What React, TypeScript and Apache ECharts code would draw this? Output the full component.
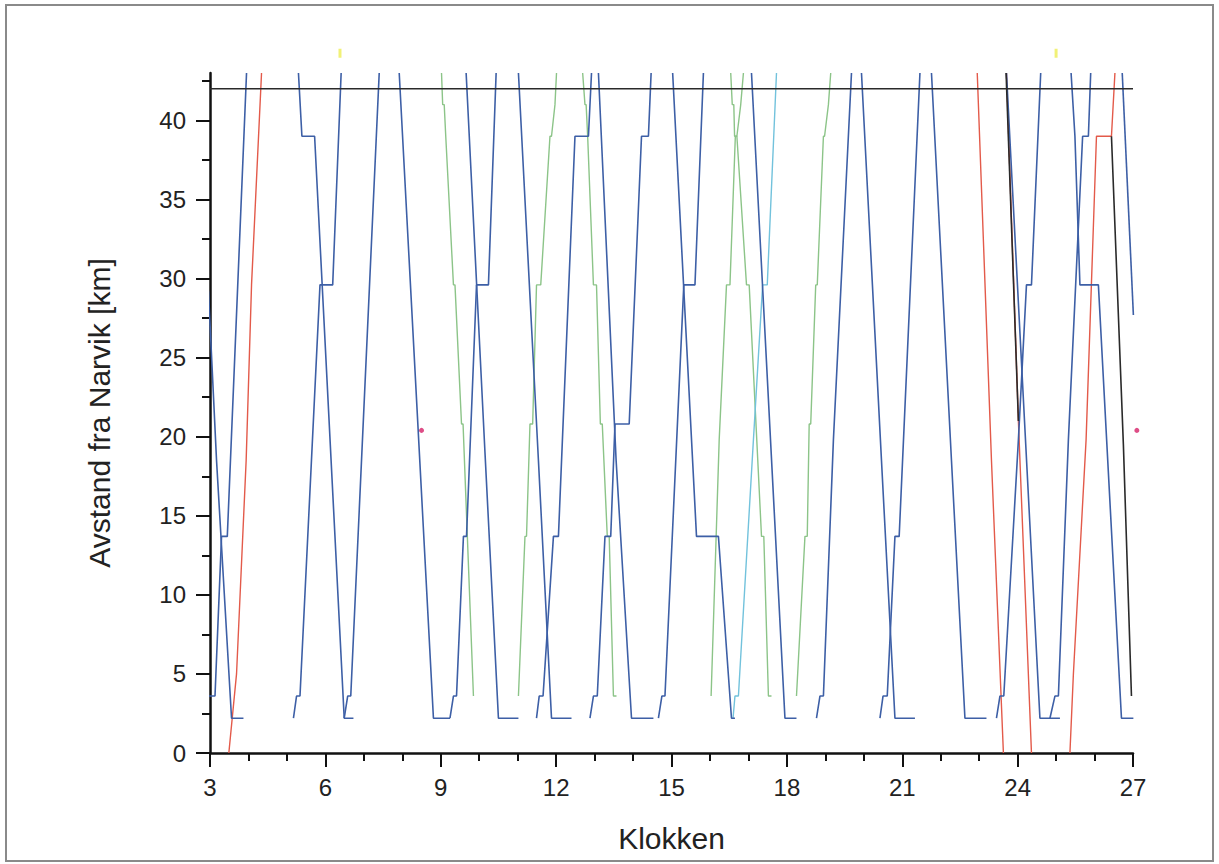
import React, { useEffect, useRef } from "react";
import * as echarts from "echarts";

// Time axis (hours) and distance axis (km)
const xTicks = { min: 3, max: 27, step: 3 };
const yTicks = { min: 0, max: 43, step: 5 };
const yTickValues = [0, 5, 10, 15, 20, 25, 30, 35, 40];

// Reference line (border at 42 km)
const borderLine = [[3, 42], [27, 42]];

// Ore trains (blue): [hour, km]
const A1 = [[2.95, 3.6], [3.13, 3.6], [3.3, 13.7], [3.45, 13.7], [3.95, 43]];
const D1 = [[2.96, 29.2], [3.17, 18.5], [3.56, 2.2], [3.87, 2.2]];
const A2 = [[5.17, 2.2], [5.25, 3.6], [5.34, 3.6], [5.86, 29.6], [6.19, 29.6], [6.41, 43]];
const D2 = [[5.3, 43], [5.39, 39], [5.72, 39], [6.49, 2.2], [6.73, 2.2]];
const A3 = [[6.49, 2.2], [6.58, 3.6], [6.66, 3.6], [7.4, 43]];
const D3 = [[7.92, 43], [8.81, 2.2], [9.24, 2.2]];
const A4 = [[9.24, 2.2], [9.33, 3.6], [9.41, 3.6], [9.59, 13.7], [9.67, 13.7], [9.93, 29.6], [10.24, 29.6], [10.44, 43]];
const D4 = [[9.66, 43], [10.15, 19], [10.5, 2.2], [11.02, 2.2]];
const D5 = [[11.02, 43], [11.54, 18.5], [11.88, 2.2], [12.4, 2.2]];
const A5 = [[11.49, 2.2], [11.56, 3.6], [11.66, 3.6], [11.93, 13.7], [12.06, 13.7], [12.49, 39], [12.84, 39], [12.92, 43]];
const A6 = [[12.88, 2.2], [12.97, 3.6], [13.07, 3.6], [13.27, 13.7], [13.42, 13.7], [13.53, 20.8], [13.9, 20.8], [14.22, 39], [14.4, 39], [14.47, 43]];
const D6 = [[13.1, 43], [13.56, 18.5], [13.96, 2.2], [14.53, 2.2]];
const A7 = [[14.66, 2.2], [14.75, 3.6], [14.83, 3.6], [15.32, 29.6], [15.61, 29.6], [15.83, 43]];
const D7 = [[15.03, 43], [15.65, 13.7], [16.22, 13.7], [16.56, 2.2], [16.65, 2.2]];
const D8 = [[17.08, 43], [17.95, 2.2], [18.25, 2.2]];
const A8 = [[18.77, 2.2], [18.86, 3.6], [18.95, 3.6], [19.21, 19.8], [19.68, 43]];
const D9 = [[19.94, 43], [20.46, 18.5], [20.81, 2.2], [21.33, 2.2]];
const A9 = [[20.42, 2.2], [20.5, 3.6], [20.61, 3.6], [20.81, 13.7], [20.92, 13.7], [21.46, 43]];
const D10 = [[21.76, 43], [22.28, 18.5], [22.63, 2.2], [23.19, 2.2]];
const A10 = [[23.45, 2.2], [23.54, 3.6], [23.64, 3.6], [24.02, 19.8], [24.23, 29.6], [24.36, 29.6], [24.6, 43]];
const D11 = [[23.71, 43], [24.58, 2.2], [25.1, 2.2]];
const A11 = [[24.84, 2.2], [24.97, 3.6], [25.06, 3.6], [25.32, 19.8], [25.69, 39], [25.84, 39], [25.9, 43]];
const D12 = [[25.39, 43], [25.49, 39], [25.62, 29.6], [26.1, 29.6], [26.7, 2.2], [27.01, 2.2]];
const D13 = [[26.72, 43], [27.01, 27.7]];

// Other trains (green)
const G0 = [[9.02, 43], [9.05, 41], [9.09, 41], [9.13, 39], [9.33, 29.6], [9.37, 29.6], [9.54, 20.8], [9.58, 20.8], [9.85, 3.6]];
const G1 = [[11.02, 3.6], [11.19, 13.7], [11.23, 13.7], [11.32, 20.8], [11.39, 20.8], [11.49, 29.6], [11.6, 29.6], [11.84, 39], [11.88, 39], [11.97, 41], [12.01, 43]];
const G2 = [[12.69, 43], [12.75, 41], [12.78, 41], [12.82, 39], [12.97, 29.6], [13.05, 29.6], [13.15, 20.8], [13.2, 20.8], [13.33, 13.7], [13.38, 13.7], [13.49, 3.6], [13.57, 3.6]];
const G3 = [[16.03, 3.6], [16.24, 19.8], [16.43, 29.6], [16.52, 29.6], [16.66, 39], [16.7, 39], [16.8, 41], [16.87, 43]];
const G4 = [[16.54, 43], [16.58, 41], [16.62, 41], [16.64, 39], [16.7, 39], [16.95, 29.6], [17.02, 29.6], [17.34, 13.7], [17.4, 13.7], [17.52, 3.6], [17.6, 3.6]];
const G5 = [[18.25, 3.6], [18.47, 13.7], [18.53, 13.7], [18.58, 20.8], [18.62, 20.8], [18.75, 29.6], [18.79, 29.6], [18.95, 39], [18.98, 39], [19.08, 41], [19.14, 43]];

// Light blue train
const C1 = [[16.6, 2.2], [16.65, 3.6], [16.74, 3.6], [17.13, 19.8], [17.37, 29.6], [17.49, 29.6], [17.73, 43]];

// Passenger trains (red)
const R1 = [[3.49, 0], [3.69, 5], [3.94, 18.5], [4.08, 29.6], [4.34, 43]];
const R2 = [[22.95, 43], [23.32, 18.5], [23.63, 0]];
const R3 = [[23.71, 43], [24.02, 21], [24.36, 0]];
const R4 = [[25.36, 0], [25.45, 5], [25.78, 19.8], [26.05, 39], [26.44, 39], [26.53, 43]];

// Dark trains (black)
const K1 = [[23.7, 43], [24.02, 21]];
const K2 = [[26.44, 39], [26.75, 19.5], [26.96, 3.6]];

// Stray markers
const yellowMarks = [[6.38, 44.25], [25.0, 44.25]];
const magentaMarks = [[8.5, 20.4], [27.1, 20.4]];

const blueTrains = [A1, D1, A2, D2, A3, D3, A4, D4, D5, A5, A6, D6, A7, D7, D8, A8, D9, A9, D10, A10, D11, A11, D12, D13];
const greenTrains = [G0, G1, G2, G3, G4, G5];
const cyanTrains = [C1];
const redTrains = [R1, R2, R3, R4];
const blackTrains = [K1, K2, borderLine];

const BLUE = "#3d5fa6";
const GREEN = "#8cc488";
const CYAN = "#72c2dc";
const RED = "#e35a4a";
const BLACK = "#2a2a2a";
const FONT = "Liberation Sans, Arial, Helvetica, sans-serif";

function lineSeries(data: number[][], color: string, width = 1.5) {
  return {
    type: "line",
    data,
    symbol: "none",
    silent: true,
    lineStyle: { color, width },
    z: 3,
  };
}

export default function App() {
  const ref = useRef<HTMLDivElement>(null);
  useEffect(() => {
    if (!ref.current) return;
    const chart = echarts.init(ref.current, undefined, { renderer: "svg" });
    const series: any[] = [];
    redTrains.forEach((d) => series.push(lineSeries(d, RED, 1.4)));
    greenTrains.forEach((d) => series.push(lineSeries(d, GREEN, 1.4)));
    cyanTrains.forEach((d) => series.push(lineSeries(d, CYAN, 1.4)));
    blueTrains.forEach((d) => series.push(lineSeries(d, BLUE, 1.6)));
    blackTrains.forEach((d) => series.push(lineSeries(d, BLACK, 1.6)));
    series.push({
      type: "scatter",
      data: yellowMarks,
      symbol: "rect",
      symbolSize: [3, 9],
      clip: false,
      silent: true,
      itemStyle: { color: "#eeee55" },
    });
    series.push({
      type: "scatter",
      data: magentaMarks,
      symbol: "circle",
      symbolSize: 5,
      clip: false,
      silent: true,
      itemStyle: { color: "#d62068" },
    });
    const axisCommon = {
      type: "value",
      axisLine: { show: true, onZero: false, lineStyle: { color: "#111", width: 2.5 } },
      axisTick: { show: true, length: 14, lineStyle: { color: "#111", width: 2 } },
      splitLine: { show: false },
      axisLabel: { color: "#222", fontSize: 24, fontFamily: FONT },
      nameLocation: "middle",
      nameTextStyle: { color: "#222", fontSize: 30, fontFamily: FONT },
    };
    chart.setOption({
      animation: false,
      backgroundColor: "#ffffff",
      grid: { left: 210, right: 86, top: 73, bottom: 111, containLabel: false },
      xAxis: {
        ...axisCommon,
        min: xTicks.min,
        max: xTicks.max,
        interval: xTicks.step,
        name: "Klokken",
        nameGap: 70,
        minorTick: { show: true, splitNumber: 3, length: 8, lineStyle: { color: "#111", width: 2 } },
        axisLabel: { ...axisCommon.axisLabel, margin: 22 },
      },
      yAxis: {
        ...axisCommon,
        min: yTicks.min,
        max: yTicks.max,
        interval: yTicks.step,
        name: "Avstand fra Narvik [km]",
        nameGap: 96,
        axisTick: { ...axisCommon.axisTick, customValues: yTickValues },
        minorTick: { show: true, splitNumber: 2, length: 8, lineStyle: { color: "#111", width: 2 } },
        axisLabel: { ...axisCommon.axisLabel, margin: 24, customValues: yTickValues },
      },
      graphic: [
        {
          type: "rect",
          shape: { x: 6, y: 5, width: 1207, height: 856 },
          style: { fill: "none", stroke: "#8a8a8a", lineWidth: 2 },
          silent: true,
          z: -1,
        },
      ],
      series,
    });
    return () => chart.dispose();
  }, []);
  return (
    <div
      ref={ref}
      style={{ position: "fixed", left: 0, top: 0, width: 1219, height: 864, background: "#fff" }}
    />
  );
}
